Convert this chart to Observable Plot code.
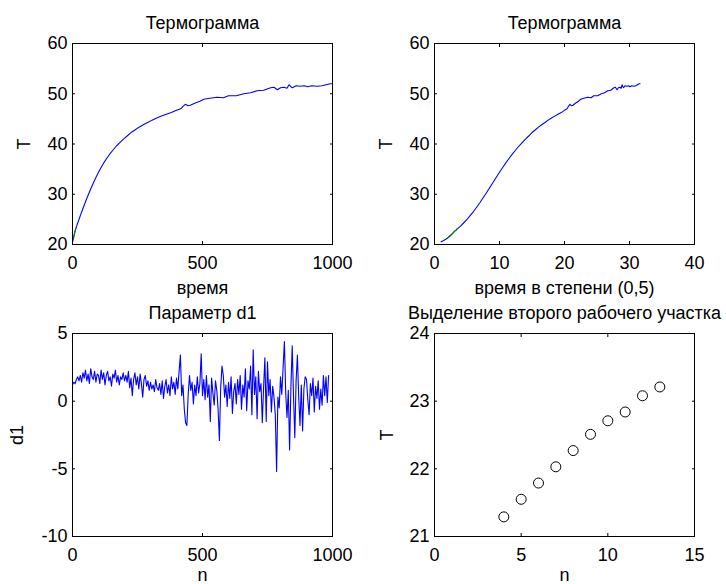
<!DOCTYPE html>
<html><head><meta charset="utf-8">
<script src="https://cdn.jsdelivr.net/npm/d3@7"></script>
<script src="https://cdn.jsdelivr.net/npm/@observablehq/plot@0.6"></script>
<style>
body{margin:0;background:#fff;}
#fig{position:relative;width:726px;height:584px;background:#fff;}
#fig svg{position:absolute;overflow:visible;}
</style></head><body><div id="fig"></div>
<script>
// ---- Data ----
const time = [1,2,3,4,5,6,7,8,9,10,11,12,13,16,20,25,30,36,42,49,56,64,72,81,90,100,110,121,132,144,156,169,182,196,210,225,240,256,272,289,306,324,342,361,380,400,416,425,434,445,453,470,490,505,528,556,580,600,630,659,685,710,735,762,775,788,800,813,825,833,840,846,860,875,891,905,920,942,960,975,991,1000];
const temp = [20.55,20.8,21.05,21.29,21.55,21.79,22.03,22.27,22.51,22.71,22.84,23.08,23.21,23.65,24.28,24.98,25.74,26.56,27.42,28.36,29.3,30.31,31.3,32.34,33.33,34.37,35.32,36.3,37.16,38.05,38.81,39.6,40.28,40.98,41.59,42.28,42.78,43.35,43.83,44.28,44.75,45.18,45.55,45.93,46.25,46.7,47.0,47.5,47.9,47.6,47.7,48.1,48.5,48.9,49.1,49.3,49.2,49.6,49.6,50.0,50.2,50.6,50.7,51.2,51.3,50.8,51.2,51.3,51.1,51.8,51.4,51.2,51.6,51.5,51.6,51.4,51.6,51.5,51.6,51.8,52.0,52.0];
const sectionN = [4,5,6,7,8,9,10,11,12,13];
const sectionT = [21.29,21.55,21.79,22.03,22.27,22.51,22.71,22.84,23.08,23.21];
const d1N = [0,5,10,15,20,25,30,35,40,45,50,55,60,65,70,75,80,85,90,95,
 100,105,110,115,120,125,130,135,140,145,150,155,160,165,170,175,180,185,190,195,
 200,205,210,215,220,225,230,235,240,245,250,255,260,265,270,275,280,285,290,295,
 300,305,310,315,320,325,330,335,340,345,350,355,360,365,370,375,380,385,390,395,
 400,405,410,415,420,425,430,435,440,445,450,455,460,465,470,475,480,485,490,495,
 500,505,510,515,520,525,530,535,540,545,550,555,560,565,570,575,580,585,590,595,
 600,605,610,615,620,625,630,635,640,645,650,655,660,665,670,675,680,685,690,695,
 700,705,710,715,720,725,730,735,740,745,750,755,760,765,770,775,780,785,790,795,
 800,805,810,815,820,825,830,835,840,845,850,855,860,865,870,875,880,885,890,895,
 900,905,910,915,920,925,930,935,940,945,950,955,960,965,970,975,980,985];
const d1 = [1.2,1.4,1.3,1.6,1.8,1.5,1.9,1.4,2.1,1.7,2.3,1.5,2.0,1.3,2.4,1.8,1.6,2.2,1.4,2.0,
 1.9,1.3,2.3,1.6,2.1,1.2,1.9,2.2,1.5,1.8,1.1,2.0,1.7,2.3,1.4,1.9,1.2,1.8,1.6,2.1,
 1.5,1.9,1.4,2.2,1.0,1.7,0.4,1.6,2.1,1.2,1.8,0.9,2.0,1.3,0.3,1.6,1.9,1.1,1.5,0.8,
 1.4,0.9,1.2,0.7,1.6,1.0,0.8,1.3,0.5,1.5,0.2,1.1,1.6,0.6,1.2,0.4,1.8,0.9,1.4,0.5,
 1.7,0.9,2.2,3.4,0.4,1.2,-0.6,-1.6,-1.8,0.5,1.9,0.8,1.4,-0.2,1.2,0.4,1.8,0.6,1.3,3.5,
 0.4,1.6,0.1,1.9,0.3,1.2,-1.5,1.7,0.6,-0.3,1.5,0.8,-0.6,-2.9,1.0,2.6,1.9,0.3,1.2,-0.4,
 1.4,0.2,1.8,-0.9,0.7,1.3,-0.2,1.6,0.5,1.9,-0.6,1.2,0.3,2.4,-0.7,1.5,0.9,2.6,-1.0,3.8,
 0.5,1.8,-1.3,2.2,0.7,1.3,-1.6,1.0,3.2,-1.5,2.9,0.4,1.6,-0.8,1.1,0.3,-1.0,-5.2,0.3,-0.5,
 1.8,0.5,2.5,4.4,0.6,-1.2,0.8,-3.6,1.0,4.1,0.4,-2.7,1.5,3.4,0.3,-1.8,1.2,-2.2,0.9,1.8,
 1.6,0.1,-1.0,1.3,0.4,1.7,-0.8,1.1,0.2,1.5,-0.6,0.9,-0.3,1.9,0.4,1.8,-0.1,1.9];

const ticksTime = [0,500,1000];
const ticksSqrt = [0,10,20,30,40];
const ticksTemp = [20,30,40,50,60];
const ticksN = [0,500,1000];
const ticksD1 = [-10,-5,0,5];
const ticksSecN = [0,5,10,15];
const ticksSecT = [21,22,23,24];

const titles = ["Термограмма","Термограмма","Параметр d1","Выделение второго рабочего участка"];
const xLabels = ["время","время в степени (0,5)","n","n"];
const yLabels = ["T","T","d1","T"];

// ---- tables ----
const thermo = time.map((t,i)=>({t, s: Math.sqrt(t), T: temp[i]}));
const section = sectionN.map((n,i)=>({n, s: Math.sqrt(n), T: sectionT[i]}));
const param = d1N.map((n,i)=>({n, d: d1[i]}));

const FONT = '"Liberation Sans", Arial, sans-serif';
const style = {fontFamily: FONT, fontSize: "18px", background: "transparent", overflow: "visible", color: "black"};

function axes(xt, yt, xl, yl, xOff, yOff) {
  return [
    Plot.axisX(xt, {anchor: "bottom", tickSize: -3, tickPadding: 15, tickFormat: d => String(d), label: xl, labelAnchor: "center", labelOffset: xOff, labelArrow: "none"}),
    Plot.axisX(xt, {anchor: "top", tickSize: -3, tickFormat: () => "", label: null}),
    Plot.axisY(yt, {anchor: "left", tickSize: -3, tickPadding: 8, tickFormat: d => String(d), label: yl, labelAnchor: "center", labelOffset: yOff, labelArrow: "none"}),
    Plot.axisY(yt, {anchor: "right", tickSize: -3, tickFormat: () => "", label: null}),
    Plot.frame({stroke: "black"})
  ];
}
function title(t, dy) {
  return Plot.text([t], {frameAnchor: "top", dy, lineAnchor: "middle", fontSize: 18, fill: "black", text: d => d});
}

const fig = document.getElementById("fig");
function place(svg, left, top) {
  svg.style.left = left + "px"; svg.style.top = top + "px";
  fig.appendChild(svg);
}

// top-left
place(Plot.plot({
  width: 363, height: 290, marginLeft: 72, marginRight: 31, marginTop: 43, marginBottom: 46,
  style,
  x: {domain: [0, 1000]}, y: {domain: [20, 60]},
  marks: [
    Plot.line(thermo, {x: "t", y: "T", stroke: "#0000ff", strokeWidth: 1.1}),
    Plot.line(section, {x: "n", y: "T", stroke: "#008000", strokeWidth: 1.1}),
    ...axes(ticksTime, ticksTemp, xLabels[0], yLabels[0], 49, 55),
    title(titles[0], -20.5)
  ]
}), 0, 0);

// top-right
place(Plot.plot({
  width: 363, height: 290, marginLeft: 71, marginRight: 32, marginTop: 43, marginBottom: 46,
  style,
  x: {domain: [0, 40]}, y: {domain: [20, 60]},
  marks: [
    Plot.line(thermo, {x: "s", y: "T", stroke: "#0000ff", strokeWidth: 1.1}),
    Plot.line(section, {x: "s", y: "T", stroke: "#008000", strokeWidth: 1.1}),
    ...axes(ticksSqrt, ticksTemp, xLabels[1], yLabels[1], 49, 55),
    title(titles[1], -20.5)
  ]
}), 363, 0);

// bottom-left
place(Plot.plot({
  width: 363, height: 294, marginLeft: 72, marginRight: 31, marginTop: 43, marginBottom: 48,
  style,
  x: {domain: [0, 1000]}, y: {domain: [-10, 5]},
  marks: [
    Plot.line(param, {x: "n", y: "d", stroke: "#0000ff", strokeWidth: 1.1}),
    ...axes(ticksN, ticksD1, xLabels[2], yLabels[2], 44, 62),
    title(titles[2], -20)
  ]
}), 0, 290);

// bottom-right
place(Plot.plot({
  width: 363, height: 294, marginLeft: 71, marginRight: 32, marginTop: 43, marginBottom: 48,
  style,
  x: {domain: [0, 15]}, y: {domain: [21, 24]},
  marks: [
    Plot.dot(section, {x: "n", y: "T", r: 5, stroke: "black", fill: "none", strokeWidth: 1}),
    ...axes(ticksSecN, ticksSecT, xLabels[3], yLabels[3], 44, 54),
    title(titles[3], -20)
  ]
}), 363, 290);
</script></body></html>
